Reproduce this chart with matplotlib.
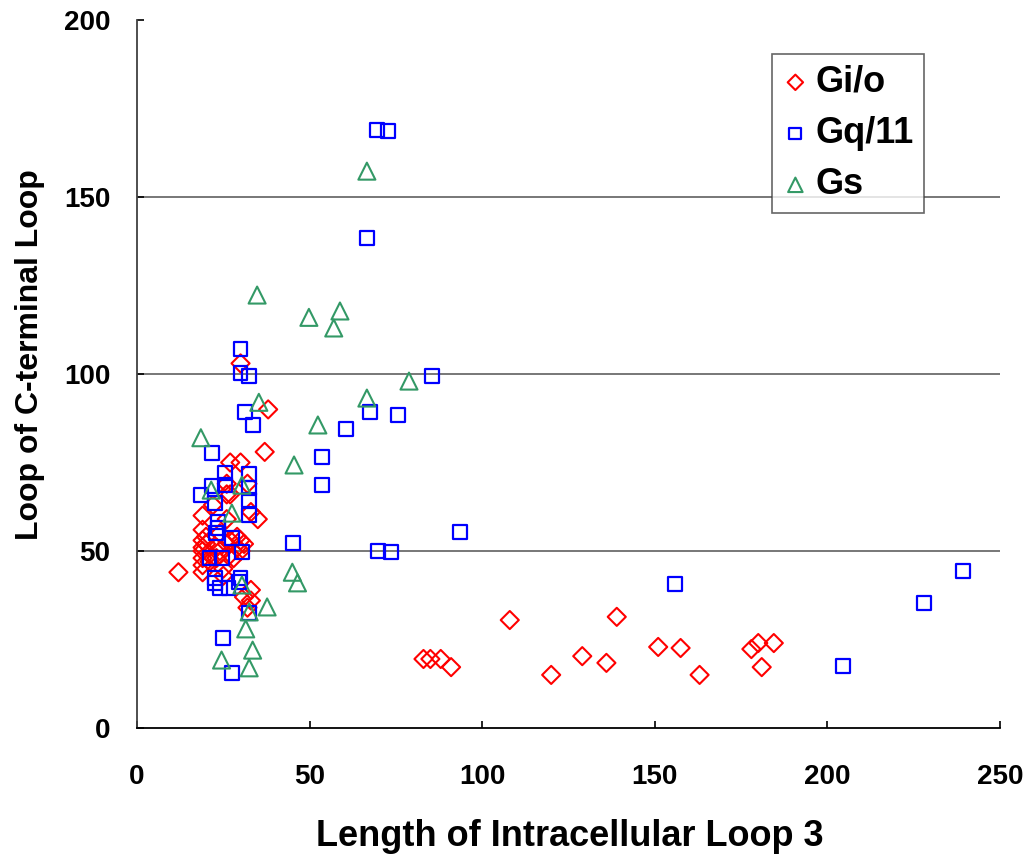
import matplotlib.pyplot as plt

# Gi/o
gio_x = [12, 19, 19, 19, 19, 19, 19, 19, 19, 20, 20, 21, 21, 22, 23, 23, 24, 24, 25, 25,
         26, 26, 26, 26, 27, 27, 27, 27, 28, 29, 29, 30, 30, 30, 30, 31, 32, 32, 33, 33,
         35, 37, 38, 31, 33,
         83, 85, 88, 91, 108, 120, 129, 136, 139, 151, 157.5, 163, 178, 180, 181, 184.5]
gio_y = [44, 60, 56, 53, 51, 50, 48, 46, 44, 54, 52, 49, 47, 63, 51, 48, 55, 50, 45, 43,
         69, 66, 59, 52, 75, 66, 53, 49, 48, 54, 51, 75, 53, 50, 103, 52, 34, 69, 36, 61,
         59, 78, 90, 37, 39,
         19.5, 19.5, 19.5, 17.2, 30.5, 15, 20.3, 18.4, 31.4, 22.9, 22.6, 15, 22.3, 24, 17.2, 24]

# Gq/11
gq_x = [69.5, 72.7, 66.6, 30, 30, 32.4, 85.4, 31.3, 67.5, 75.6, 33.6, 60.5, 21.7, 53.6,
        25.5, 32.4, 25.5, 21.7, 53.6, 32.4, 18.5, 22.5, 32.4, 32.4, 23.5, 23.5, 23, 27.5,
        30.3, 21, 24.5, 22.5, 30, 22.5, 24, 26.5, 29.5, 32.5, 25, 27.5,
        45.2, 69.8, 73.6, 93.5, 156, 204.5, 228, 239.2]
gq_y = [169, 168.6, 138.4, 107, 100.3, 99.4, 99.4, 89.3, 89.3, 88.4, 85.6, 84.5, 77.7, 76.6,
        72, 71.8, 68.6, 68.4, 68.6, 67.8, 65.8, 63.5, 64.4, 60.2, 58.2, 56.5, 55, 53.7,
        49.7, 48, 48, 42.4, 42.4, 41, 39.5, 39.5, 41.2, 32.5, 25.4, 15.5,
        52.3, 50, 49.7, 55.4, 40.7, 17.5, 35.3, 44.3]

# Gs
gs_x = [66.6, 34.8, 49.8, 58.8, 57, 66.6, 78.8, 35.3, 18.5, 52.4, 45.5, 30.4, 21.5, 27.5,
        30.4, 37.7, 32.5, 31.5, 33.5, 24.5, 32.5, 45, 46.5]
gs_y = [157.3, 122.3, 116, 117.8, 113, 93.2, 98, 92, 82, 85.6, 74.3, 68.6, 67.2, 60.7,
        40.4, 34.2, 32.8, 28, 22, 19.2, 17, 44, 41]

plt.rcParams['font.family'] = ['Liberation Sans', 'DejaVu Sans']
plt.rcParams['font.weight'] = 'bold'

fig = plt.figure(figsize=(10.34, 8.58), dpi=100)
ax = fig.add_axes([0.1325, 0.1515, 0.8345, 0.8252])

ax.scatter(gio_x, gio_y, marker='D', s=85, facecolors='none', edgecolors='#ff0000',
           linewidths=1.5, label='Gi/o', zorder=3)
ax.scatter(gq_x, gq_y, marker='s', s=100, facecolors='none', edgecolors='#0000ff',
           linewidths=1.6, label='Gq/11', zorder=3)
ax.scatter(gs_x, gs_y, marker='^', s=150, facecolors='none', edgecolors='#339966',
           linewidths=1.5, label='Gs', zorder=3)

ax.set_xlim(0, 250)
ax.set_ylim(0, 200)
ax.set_xticks([0, 50, 100, 150, 200, 250])
ax.set_yticks([0, 50, 100, 150, 200])
for v in [50, 100, 150]:
    ax.axhline(v, color='#606060', linewidth=1.2, zorder=1)

for s in ['top', 'right']:
    ax.spines[s].set_visible(False)
ax.spines['left'].set_linewidth(1.3)
ax.spines['left'].set_color('#404040')
ax.spines['bottom'].set_linewidth(1.3)
ax.tick_params(axis='both', labelsize=20, direction='in', length=5, width=1.2)
ax.tick_params(axis='x', pad=26)
ax.tick_params(axis='y', pad=19)

ax.set_xlabel('Length of Intracellular Loop 3', fontsize=26, fontweight='bold')
ax.set_ylabel('Loop of C-terminal Loop', fontsize=23, fontweight='bold')
ax.xaxis.set_label_coords(0.5017, -0.128)
ax.yaxis.set_label_coords(-0.107, 0.527)

leg = ax.legend(loc='upper left', bbox_to_anchor=(0.7358, 0.952), borderaxespad=0,
                fontsize=26, frameon=True, fancybox=False, edgecolor='#404040',
                markerscale=0.85, handletextpad=0.2, borderpad=0.3, labelspacing=0.45,
                handlelength=0.7)
leg.get_frame().set_linewidth(1.2)
for t in leg.get_texts():
    t.set_fontweight('bold')

fig.savefig('out.png', dpi=100)
